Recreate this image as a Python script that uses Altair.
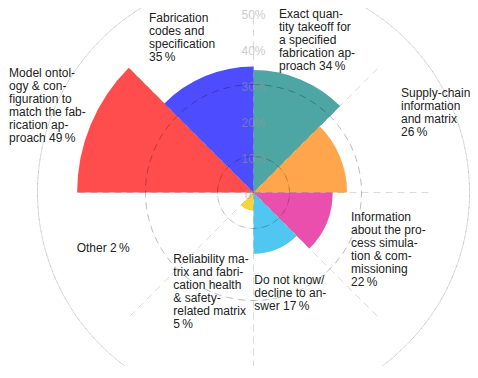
import math
import altair as alt
import pandas as pd

# ---------------- data ----------------
categories = [
    "Exact quantity takeoff for a specified fabrication approach",
    "Supply-chain information and matrix",
    "Information about the process simulation & commissioning",
    "Do not know/decline to answer",
    "Reliability matrix and fabrication health & safety-related matrix",
    "Other",
    "Model ontology & configuration to match the fabrication approach",
    "Fabrication codes and specification",
]
values = [34, 26, 22, 17, 5, 2, 49, 35]
label_templates = [
    "Exact quan-\ntity takeoff for\na specified\nfabrication ap-\nproach  {}\u2009%",
    "Supply-chain\ninformation\nand matrix\n{}\u2009%",
    "Information\nabout the pro-\ncess simula-\ntion & com-\nmissioning\n{}\u2009%",
    "Do not know/\ndecline to an-\nswer  {}\u2009%",
    "Reliability ma-\ntrix and fabri-\ncation health\n& safety-\nrelated matrix\n{}\u2009%",
    "Other  {}\u2009%",
    "Model ontol-\nogy & con-\nfiguration to\nmatch the fab-\nrication ap-\nproach  {}\u2009%",
    "Fabrication\ncodes and\nspecification\n{}\u2009%",
]
colors = ["#4da6a4", "#ffa64d", "#eb4fae", "#4fc7f0", "#f8d43c", "#eeeeee", "#ff4d4d", "#4d4dff"]
radial_ticks = [0, 10, 20, 30, 40, 50]
spoke_angles = [0, 45, 90, 135, 180, 225, 270, 315]

# ---------------- layout ----------------
W, H = 433, 347
PAD = {"left": 29, "top": 11, "right": 0, "bottom": 0}
CX, CY = W / 2, H / 2
R = 180
# label anchors (left edge, first line): angle clockwise from top (deg), distance (px)
label_angle = [8.11, 56.0, 104.10, 179.48, 230.33, 252.43, 296.05, 329.09]
label_radius = [180.8, 177.9, 100.5, 87.5, 104.2, 185.5, 272.1, 203.4]

FONT = "Liberation Sans"
N = len(categories)

df = pd.DataFrame({
    "category": categories,
    "value": values,
    "idx": list(range(N)),
    "one": [1] * N,
    "label": [t.format(v) for t, v in zip(label_templates, values)],
    "la": label_angle,
    "lr": label_radius,
})

rscale = alt.Scale(type="linear", domain=[0, 50], range=[0, R], zero=True)
tscale = alt.Scale(type="linear", domain=[0, N], range=[0, 2 * math.pi])

sectors = alt.Chart(df).transform_window(
    t_end="sum(one)", sort=[alt.SortField("idx", order="ascending")]
).transform_calculate(
    t_start="datum.t_end - datum.one"
).mark_arc().encode(
    theta=alt.Theta("t_start:Q", scale=tscale),
    theta2="t_end:Q",
    radius=alt.Radius("value:Q", scale=rscale),
    color=alt.Color("category:N", scale=alt.Scale(domain=categories, range=colors), legend=None),
)

grid_df = pd.DataFrame({"r": radial_ticks[1:]})
circles = alt.Chart(grid_df).mark_arc(
    theta=0, theta2=2 * math.pi, fillOpacity=0, stroke="#000000",
    strokeOpacity=0.14, strokeWidth=1, strokeDash=[7, 5],
).encode(radius=alt.Radius("r:Q", scale=rscale))

spoke_df = pd.DataFrame({"a": spoke_angles})
spokes = alt.Chart(spoke_df).transform_calculate(
    x0=f"{CX}",
    y0=f"{CY}",
    x1=f"{CX} + {R} * sin(datum.a * PI / 180)",
    y1=f"{CY} - {R} * cos(datum.a * PI / 180)",
).mark_rule(stroke="#000000", strokeOpacity=0.14, strokeWidth=1, strokeDash=[7, 5]).encode(
    x=alt.X("x0:Q", scale=None),
    y=alt.Y("y0:Q", scale=None),
    x2="x1:Q",
    y2="y1:Q",
)

tick_df = pd.DataFrame({"t": radial_ticks, "lab": [f"{t}%" for t in radial_ticks]})
tick_text = alt.Chart(tick_df).mark_text(
    font=FONT, fontSize=12, color="#999999", opacity=0.5, align="center", baseline="middle", dy=2
).encode(
    theta=alt.value(0),
    radius=alt.Radius("t:Q", scale=rscale),
    text="lab:N",
)

labels = alt.Chart(df).transform_calculate(th="datum.la * PI / 180").mark_text(
    font=FONT, fontSize=12, color="#222222", align="left", baseline="middle",
    lineBreak="\n", lineHeight=13,
).encode(
    theta=alt.Theta("th:Q", scale=None),
    radius=alt.Radius("lr:Q", scale=None),
    text="label:N",
)

chart = alt.layer(sectors, circles, spokes, tick_text, labels).resolve_scale(
    theta="independent", radius="independent"
).properties(
    width=W, height=H, padding=PAD, autosize="none"
).configure_view(stroke=None)

chart.save("out.html", embed_options={"renderer": "svg", "actions": False})
